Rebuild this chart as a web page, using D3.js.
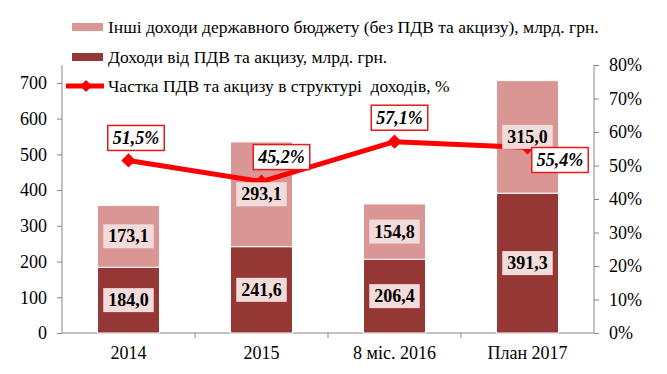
<!DOCTYPE html>
<html><head><meta charset="utf-8">
<script src="https://cdn.jsdelivr.net/npm/d3@7"></script>
</head><body style="margin:0;background:#fff"><svg id="c" width="667" height="374" font-family="Times New Roman" style="display:block"></svg>
<script>
const categories = ["2014", "2015", "8 міс. 2016", "План 2017"];
const vatExcise = [184.0, 241.6, 206.4, 391.3];
const otherIncome = [173.1, 293.1, 154.8, 315.0];
const sharePct = [51.5, 45.2, 57.1, 55.4];
const leftTicks = [0, 100, 200, 300, 400, 500, 600, 700];
const rightTicks = [0, 10, 20, 30, 40, 50, 60, 70, 80];
const seriesNames = [
  "Інші доходи державного бюджету (без ПДВ та акцизу), млрд. грн.",
  "Доходи від ПДВ та акцизу, млрд. грн.",
  "Частка ПДВ та акцизу в структурі  доходів, %"
];
// layout for share labels (dx, dy from point)
const shareLabelOffsets = [[7.5,-22.5],[20,-24.5],[5,-24],[32.5,12.6]];

const FF = '"Times New Roman"';
const fmt = v => v.toFixed(1).replace(".", ",");
const svg = d3.select("#c");
const L = 62, R = 594, B = 333, T = 65;
const x = d3.scaleBand().domain(categories).range([L, R]).paddingInner(0.534).paddingOuter(0.267);
const y = d3.scaleLinear().domain([0, 750]).range([B, T]);
const y2 = d3.scaleLinear().domain([0, 80]).range([B, T]);
const cDark = "#953735", cLight = "#D99694", cLab = "#F2DCDB", cRed = "#FF0000", axCol = "#868686";

// axes
const gl = svg.append("g").attr("transform", `translate(${L},0)`)
  .call(d3.axisLeft(y).tickValues(leftTicks).tickSize(5).tickPadding(10));
const gr = svg.append("g").attr("transform", `translate(${R},0)`)
  .call(d3.axisRight(y2).tickValues(rightTicks).tickFormat(d => d + "%").tickSize(5).tickPadding(10));
[gl, gr].forEach(g => {
  g.attr("font-family", "Times New Roman").attr("font-size", 18);
  g.select(".domain").attr("stroke", axCol).attr("d", `M0,${B}V${T}`);
  g.selectAll(".tick line").attr("stroke", axCol);
  g.selectAll(".tick text").attr("fill", "#000").style("font-size", "18px").style("font-family", FF);
});
// bottom axis
const xb = svg.append("g").attr("transform", `translate(0,${B})`);
xb.append("line").attr("x1", L).attr("x2", R).attr("stroke", axCol);
const bounds = categories.slice(1).map(c => x(c) - x.step() * x.paddingInner() / 2);
xb.selectAll(".sep").data(bounds).join("line").attr("x1", d => d).attr("x2", d => d).attr("y1", 0).attr("y2", 5).attr("stroke", axCol);
xb.selectAll(".cl").data(categories).join("text").attr("x", d => x(d) + x.bandwidth() / 2).attr("y", 26)
  .attr("text-anchor", "middle").style("font-family", FF).style("font-size", "18px").text(d => d);

// bars
const stack = categories.map((c, i) => ({c, a: vatExcise[i], b: otherIncome[i]}));
svg.selectAll(".bd").data(stack).join("rect").attr("x", d => x(d.c)).attr("width", x.bandwidth())
  .attr("y", d => y(d.a)).attr("height", d => y(0) - y(d.a)).attr("fill", cDark).attr("stroke", "#fff").attr("stroke-width", 1);
svg.selectAll(".bl").data(stack).join("rect").attr("x", d => x(d.c)).attr("width", x.bandwidth())
  .attr("y", d => y(d.a + d.b)).attr("height", d => y(d.a) - y(d.a + d.b)).attr("fill", cLight).attr("stroke", "#fff").attr("stroke-width", 1);

// line
const pts = categories.map((c, i) => [x(c) + x.bandwidth() / 2, y2(sharePct[i])]);
svg.append("path").attr("d", d3.line()(pts)).attr("fill", "none").attr("stroke", cRed).attr("stroke-width", 5).attr("stroke-linejoin", "round");
svg.selectAll(".mk").data(pts).join("path").attr("transform", d => `translate(${d[0]},${d[1]})`)
  .attr("d", d3.symbol(d3.symbolDiamond2, 130)).attr("fill", cRed);

function barLabel(cx, cy, txt) {
  const g = svg.append("g");
  const t = g.append("text").attr("x", cx).attr("y", cy + 6).attr("text-anchor", "middle")
    .style("font-family", FF).style("font-size", "18px").style("font-weight", "bold").text(txt);
  const w = t.node().getComputedTextLength() + 10;
  g.insert("rect", "text").attr("x", cx - w / 2).attr("y", cy - 12).attr("width", w).attr("height", 24).attr("fill", cLab);
}
stack.forEach(d => {
  const cx = x(d.c) + x.bandwidth() / 2;
  barLabel(cx, (y(0) + y(d.a)) / 2, fmt(d.a));
  barLabel(cx, (y(d.a) + y(d.a + d.b)) / 2, fmt(d.b));
});

pts.forEach((p, i) => {
  const cx = p[0] + shareLabelOffsets[i][0], cy = p[1] + shareLabelOffsets[i][1];
  const g = svg.append("g");
  const t = g.append("text").attr("x", cx).attr("y", cy + 6).attr("text-anchor", "middle")
    .style("font-family", FF).style("font-size", "18px").style("font-weight", "bold").style("font-style", "italic").text(fmt(sharePct[i]) + "%");
  const w = t.node().getComputedTextLength() + 10;
  g.insert("rect", "text").attr("x", cx - w / 2).attr("y", cy - 12.5).attr("width", w).attr("height", 25)
    .attr("fill", "#fff").attr("stroke", "#E31B1B").attr("stroke-width", 1.5);
});

// legend
const ly = [27, 57, 86];
const lg = svg.append("g");
lg.append("rect").attr("x", 72).attr("y", ly[0] - 4).attr("width", 31).attr("height", 8).attr("fill", cLight);
lg.append("rect").attr("x", 72).attr("y", ly[1] - 4).attr("width", 31).attr("height", 8).attr("fill", cDark);
lg.append("line").attr("x1", 66).attr("x2", 104).attr("y1", ly[2]).attr("y2", ly[2]).attr("stroke", cRed).attr("stroke-width", 5);
lg.append("path").attr("transform", `translate(86,${ly[2]})`).attr("d", d3.symbol(d3.symbolDiamond2, 90)).attr("fill", cRed);
lg.selectAll(".lt").data(seriesNames).join("text").attr("x", 108).attr("y", (d, i) => ly[i] + 6)
  .style("font-family", FF).style("font-size", "17.5px").style("white-space", "pre").text(d => d);
</script></body></html>
